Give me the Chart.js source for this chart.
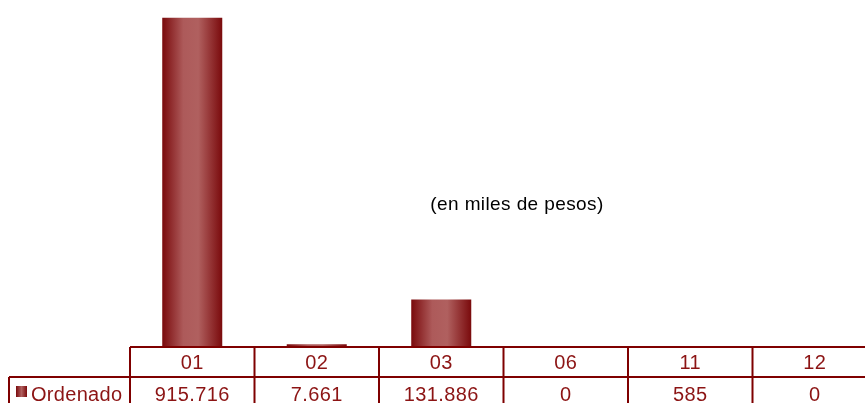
<!DOCTYPE html>
<html>
<head>
<meta charset="utf-8">
<script src="https://cdn.jsdelivr.net/npm/chart.js@4"></script>
<style>
  html, body { margin: 0; padding: 0; background: #fff; overflow: hidden; }
  #wrap { width: 877px; height: 403px; position: relative; }
</style>
</head>
<body>
<div id="wrap"><canvas id="chart"></canvas></div>
<script>
const categories = ['01', '02', '03', '06', '11', '12'];
const ordenado = [915716, 7661, 131886, 0, 585, 0];
const valueLabels = ['915.716', '7.661', '131.886', '0', '585', '0'];
const seriesName = 'Ordenado';
const note = '(en miles de pesos)';
const yMax = 965000;

const lineColor = '#7f0000';
const textColor = '#8c1414';

// horizontal gradient for each bar, worked out from the x scale
function barGradient(context) {
    const chart = context.chart;
    const xs = chart.scales.x;
    if (!xs || !chart.chartArea) return '#9a3a3a';
    const cx = xs.getPixelForValue(context.dataIndex);
    const w = (xs.width / categories.length) * 0.482;
    const g = chart.ctx.createLinearGradient(cx - w / 2, 0, cx + w / 2, 0);
    g.addColorStop(0, '#7a0a0c');
    g.addColorStop(0.35, '#ad5a5a');
    g.addColorStop(0.6, '#b0605f');
    g.addColorStop(1, '#7a0a0c');
    return g;
}

const tablePlugin = {
    id: 'dataTable',
    afterDraw(chart) {
        const ctx = chart.ctx;
        const xs = chart.scales.x;
        const area = chart.chartArea;
        const colW = xs.width / categories.length;
        const top = area.bottom;
        const mid = top + 30;
        const bottom = chart.height + 5;
        const right = area.right;

        ctx.save();
        ctx.strokeStyle = lineColor;
        ctx.lineWidth = 2;
        ctx.beginPath();
        ctx.moveTo(area.left, top); ctx.lineTo(right, top);
        ctx.moveTo(9, mid); ctx.lineTo(right, mid);
        ctx.moveTo(9, mid); ctx.lineTo(9, bottom);
        for (let i = 0; i <= categories.length; i++) {
            const x = area.left + i * colW;
            ctx.moveTo(x, top); ctx.lineTo(x, bottom);
        }
        ctx.stroke();

        ctx.fillStyle = textColor;
        ctx.font = '20px "Liberation Sans", Arial, sans-serif';
        ctx.letterSpacing = '0.4px';
        ctx.textAlign = 'center';
        ctx.textBaseline = 'middle';
        categories.forEach((c, i) => {
            const cx = xs.getPixelForValue(i);
            ctx.fillText(c, cx, top + 16);
            ctx.fillText(valueLabels[i], cx, mid + 18);
        });

        // legend key
        const kg = ctx.createLinearGradient(16, 0, 27, 0);
        kg.addColorStop(0, '#7a0a0c');
        kg.addColorStop(0.5, '#b0605f');
        kg.addColorStop(1, '#7a0a0c');
        ctx.fillStyle = kg;
        ctx.fillRect(16, mid + 9, 11, 11);
        ctx.fillStyle = textColor;
        ctx.textAlign = 'left';
        ctx.letterSpacing = '0.3px';
        ctx.fillText(seriesName, 31, mid + 18);

        // unit note
        ctx.fillStyle = '#000';
        ctx.font = '19px "Liberation Sans", Arial, sans-serif';
        ctx.letterSpacing = '0.4px';
        ctx.textAlign = 'center';
        ctx.fillText(note, 517, 205);
        ctx.restore();
    }
};

new Chart(document.getElementById('chart'), {
    type: 'bar',
    data: {
        labels: categories,
        datasets: [{
            label: seriesName,
            data: ordenado,
            backgroundColor: barGradient,
            borderWidth: 0,
            categoryPercentage: 1,
            barPercentage: 0.482
        }]
    },
    options: {
        responsive: true,
        maintainAspectRatio: false,
        animation: false,
        layout: { padding: { left: 130, right: 0, top: 0, bottom: 56 } },
        plugins: { legend: { display: false }, tooltip: { enabled: false } },
        scales: {
            x: { display: false, offset: true },
            y: { display: false, min: 0, max: yMax }
        }
    },
    plugins: [tablePlugin]
});
</script>
</body>
</html>
